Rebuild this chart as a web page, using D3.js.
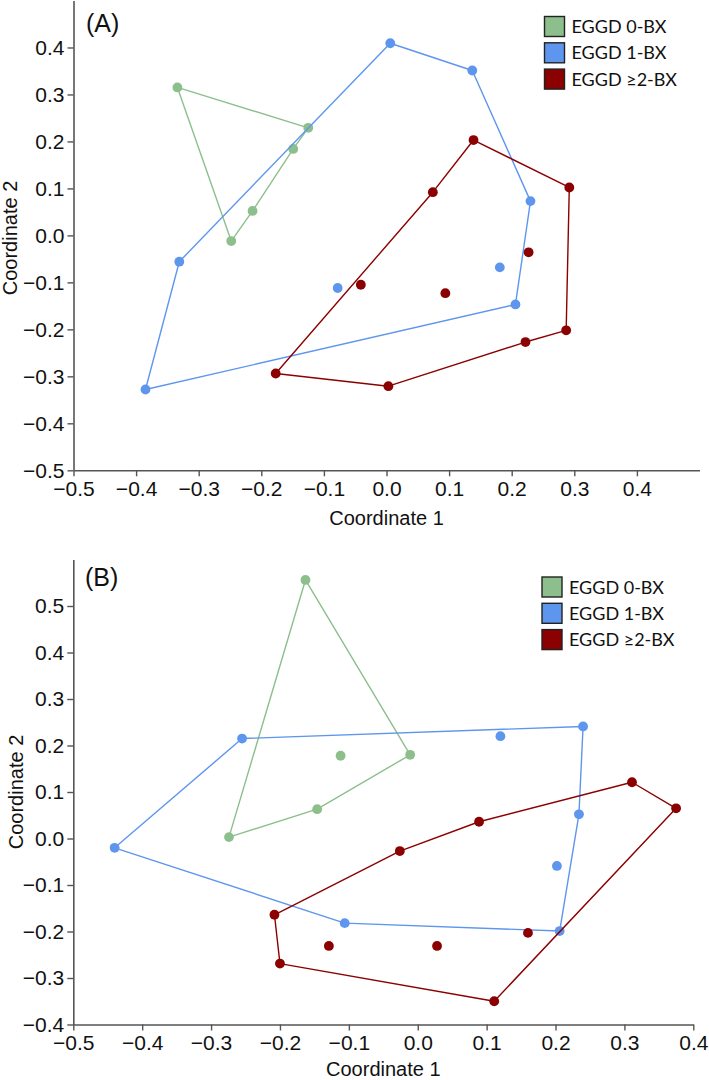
<!DOCTYPE html>
<html>
<head>
<meta charset="utf-8">
<script src="https://cdn.jsdelivr.net/npm/d3@7"></script>
<style>
  html, body { margin: 0; padding: 0; background: #fff; }
  svg { display: block; }
</style>
</head>
<body>
<svg id="chart" width="709" height="1080"></svg>
<script>
// ---------- DATA ----------
const groups = ["EGGD 0-BX", "EGGD 1-BX", "EGGD \u22652-BX"];
const groupColors = ["#8dbf8d", "#5e96ee", "#8b0000"];

// Panel A
const aGreenX = [-0.334, -0.125, -0.149, -0.214, -0.248];
const aGreenY = [0.315, 0.229, 0.184, 0.052, -0.012];
const aGreenHull = [0, 1, 2, 3, 4];

const aBlueX = [-0.331, 0.006, 0.137, 0.230, 0.206, -0.385, 0.181, -0.078];
const aBlueY = [-0.056, 0.409, 0.351, 0.073, -0.147, -0.328, -0.068, -0.112];
const aBlueHull = [0, 1, 2, 3, 4, 5];

const aRedX = [-0.177, 0.074, 0.139, 0.292, 0.287, 0.222, 0.003, 0.227, -0.041, 0.094];
const aRedY = [-0.294, 0.092, 0.203, 0.102, -0.202, -0.227, -0.321, -0.036, -0.105, -0.123];
const aRedHull = [0, 1, 2, 3, 4, 5, 6];

// Panel B
const bGreenX = [-0.163, -0.011, -0.146, -0.274, -0.112];
const bGreenY = [0.556, 0.180, 0.063, 0.003, 0.178];
const bGreenHull = [0, 1, 2, 3];

const bBlueX = [-0.440, -0.255, 0.240, 0.234, 0.206, -0.106, 0.120, 0.202];
const bBlueY = [-0.020, 0.215, 0.241, 0.052, -0.199, -0.182, 0.220, -0.059];
const bBlueHull = [0, 1, 2, 3, 4, 5];

const bRedX = [-0.208, -0.026, 0.089, 0.311, 0.375, 0.111, -0.200, 0.160, 0.028, -0.129];
const bRedY = [-0.164, -0.027, 0.036, 0.121, 0.065, -0.350, -0.269, -0.203, -0.231, -0.231];
const bRedHull = [0, 1, 2, 3, 4, 5, 6];

// Axes
const aXTicks = [-0.5, -0.4, -0.3, -0.2, -0.1, 0.0, 0.1, 0.2, 0.3, 0.4];
const aYTicks = [-0.5, -0.4, -0.3, -0.2, -0.1, 0.0, 0.1, 0.2, 0.3, 0.4];
const bXTicks = [-0.5, -0.4, -0.3, -0.2, -0.1, 0.0, 0.1, 0.2, 0.3, 0.4];
const bYTicks = [-0.4, -0.3, -0.2, -0.1, 0.0, 0.1, 0.2, 0.3, 0.4, 0.5];
const xLabel = "Coordinate 1";
const yLabel = "Coordinate 2";

// ---------- DRAW ----------
const svg = d3.select("#chart");
const fmt = d3.format(".1f");
const AX_FONT = "'Liberation Sans', Arial, Helvetica, sans-serif";

function drawPanel(cfg) {
  const g = svg.append("g");
  const x = d3.scaleLinear().domain(cfg.xDomain).range(cfg.xRange);
  const y = d3.scaleLinear().domain(cfg.yDomain).range(cfg.yRange);

  const xAxis = g.append("g")
    .attr("transform", `translate(0,${cfg.yRange[0]})`)
    .call(d3.axisBottom(x).tickValues(cfg.xTicks).tickFormat(fmt).tickSizeInner(6).tickSizeOuter(0).tickPadding(5));
  const yAxis = g.append("g")
    .attr("transform", `translate(${cfg.xRange[0]},0)`)
    .call(d3.axisLeft(y).tickValues(cfg.yTicks).tickFormat(fmt).tickSizeInner(6).tickSizeOuter(0).tickPadding(3));
  [xAxis, yAxis].forEach(a => {
    a.select(".domain").attr("stroke", "#555").attr("stroke-width", 1.6);
    a.selectAll(".tick line").attr("stroke", "#555").attr("stroke-width", 1.4);
    a.selectAll(".tick text").attr("fill", "#111")
      .style("font-family", AX_FONT).style("font-size", "21px");
  });

  // axis titles
  g.append("text")
    .attr("x", (cfg.xRange[0] + cfg.xRange[1]) / 2)
    .attr("y", cfg.xTitleY)
    .attr("text-anchor", "middle")
    .style("font-family", AX_FONT).style("font-size", "20px").attr("fill", "#111")
    .text(xLabel);
  g.append("text")
    .attr("transform", `translate(${cfg.yTitleX},${cfg.yTitleCY}) rotate(-90)`)
    .attr("text-anchor", "middle")
    .style("font-family", AX_FONT).style("font-size", "20px").attr("fill", "#111")
    .text(yLabel);

  // panel tag
  g.append("text")
    .attr("x", cfg.tagX).attr("y", cfg.tagY)
    .style("font-family", AX_FONT).style("font-size", "25px").attr("fill", "#111")
    .text(cfg.tag);

  // groups
  const line = d3.line().x(d => x(d[0])).y(d => y(d[1])).curve(d3.curveLinearClosed);
  cfg.series.forEach((s, i) => {
    const pts = s.xs.map((v, k) => [v, s.ys[k]]);
    const hull = s.hull.map(k => pts[k]);
    g.append("path")
      .attr("d", line(hull))
      .attr("fill", "none")
      .attr("stroke", groupColors[i])
      .attr("stroke-width", 1.4)
      .attr("stroke-linejoin", "round");
    g.selectAll(null).data(pts).enter().append("circle")
      .attr("cx", d => x(d[0]))
      .attr("cy", d => y(d[1]))
      .attr("r", 4.9)
      .attr("fill", groupColors[i]);
  });

  // legend
  const lg = g.append("g");
  groups.forEach((name, i) => {
    const yy = cfg.legendY + i * cfg.legendStep;
    lg.append("rect")
      .attr("x", cfg.legendX).attr("y", yy)
      .attr("width", 20).attr("height", 20)
      .attr("fill", groupColors[i])
      .attr("stroke", "#222").attr("stroke-width", 1.4);
    lg.append("text")
      .attr("x", cfg.legendX + 27).attr("y", yy + 16.5)
      .style("font-family", "Lato, 'Open Sans', sans-serif").style("font-size", "18px").attr("fill", "#111")
      .text(name);
  });
}

drawPanel({
  tag: "(A)", tagX: 86, tagY: 32,
  xDomain: [-0.5, 0.5], xRange: [73.5, 699.5],
  yDomain: [-0.5, 0.5], yRange: [470.3, 0.5],
  xTicks: aXTicks, yTicks: aYTicks,
  xTitleY: 525, yTitleX: 17, yTitleCY: 238,
  legendX: 544.5, legendY: 16.5, legendStep: 26.3,
  series: [
    { xs: aGreenX, ys: aGreenY, hull: aGreenHull },
    { xs: aBlueX, ys: aBlueY, hull: aBlueHull },
    { xs: aRedX, ys: aRedY, hull: aRedHull }
  ]
});

drawPanel({
  tag: "(B)", tagX: 85, tagY: 586,
  xDomain: [-0.5, 0.4], xRange: [73.3, 693.3],
  yDomain: [-0.4, 0.6], yRange: [1024.5, 559.5],
  xTicks: bXTicks, yTicks: bYTicks,
  xTitleY: 1076, yTitleX: 23, yTitleCY: 792,
  legendX: 542, legendY: 577, legendStep: 26.3,
  series: [
    { xs: bGreenX, ys: bGreenY, hull: bGreenHull },
    { xs: bBlueX, ys: bBlueY, hull: bBlueHull },
    { xs: bRedX, ys: bRedY, hull: bRedHull }
  ]
});
</script>
</body>
</html>
